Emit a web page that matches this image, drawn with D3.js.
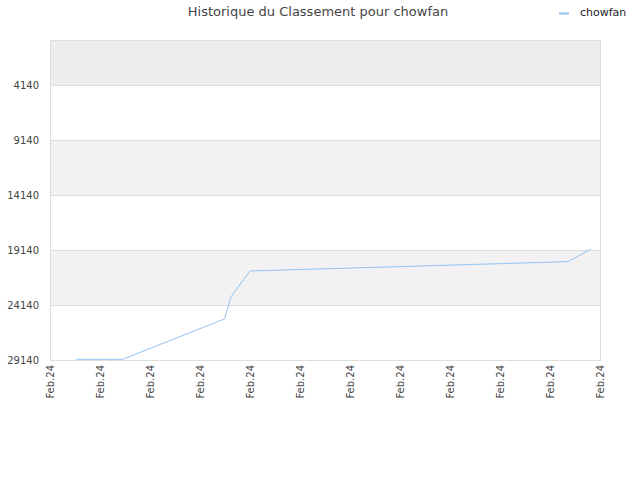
<!DOCTYPE html>
<html lang="en">
<head>
  <meta charset="UTF-8">
  <title></title>
  <style>
    html, body {
      margin: 0;
      overflow: hidden;
      width: 100%;
      height: 100%;
      background: #fff;
    }
    svg {
      position: absolute;
      top: 0;
      left: 0;
      font-family: "DejaVu Sans", sans-serif;
    }
  </style>
</head>
<body>
  <svg width="640" height="480"></svg>
</body>
<script src="https://d3js.org/d3.v7.min.js"></script>
<script type="text/javascript">
  // data: position along the axis (in tick steps) and rank
  const days = [0.53, 1.45, 3.49, 3.62, 4.0, 10.36, 10.82]
  const ranks = [29080, 29080, 25410, 23390, 21050, 20200, 19050]
  const yTicks = [4140, 9140, 14140, 19140, 24140, 29140]
  const xTicks = [0, 1, 2, 3, 4, 5, 6, 7, 8, 9, 10, 11]
  const xLabel = 'Feb.24'
  const seriesName = 'chowfan'
  const title = 'Historique du Classement pour chowfan'

  const svg = d3.select('svg')
  const mLeft = 50, mRight = 600, mTop = 40, mBottom = 360
  const lineColor = '#92c3f2'

  const x = d3.scaleLinear().domain([0, 11]).range([mLeft, mRight])
  const y = d3.scaleLinear().domain([50, 29140]).range([mTop, mBottom])

  // background bands
  const edges = [50].concat(yTicks)
  const bands = d3.pairs(edges)
  svg.append('g')
    .selectAll('rect')
    .data(bands)
    .enter().append('rect')
      .attr('x', mLeft)
      .attr('y', d => y(d[0]))
      .attr('width', mRight - mLeft)
      .attr('height', d => y(d[1]) - y(d[0]))
      .attr('fill', (d, i) => i === 0 ? '#ededed' : (i % 2 === 0 ? '#f2f2f2' : '#ffffff'))

  // grid lines
  svg.append('g')
    .selectAll('line')
    .data(yTicks)
    .enter().append('line')
      .attr('x1', mLeft)
      .attr('x2', mRight)
      .attr('y1', d => Math.round(y(d)) + 0.5)
      .attr('y2', d => Math.round(y(d)) + 0.5)
      .attr('stroke', '#dddddd')

  // frame
  svg.append('rect')
    .attr('x', mLeft + 0.5)
    .attr('y', mTop + 0.5)
    .attr('width', mRight - mLeft)
    .attr('height', mBottom - mTop)
    .attr('fill', 'none')
    .attr('stroke', '#dddddd')

  // y axis
  const yAxis = svg.append('g')
    .attr('transform', `translate(${mLeft},0)`)
    .call(d3.axisLeft(y).tickValues(yTicks).tickSize(0).tickPadding(11).tickFormat(d3.format('d')))
  yAxis.select('.domain').remove()
  yAxis.selectAll('text')
    .attr('fill', '#444')
    .style('font-size', '10px')
    .style('font-family', '"DejaVu Sans", sans-serif')

  // x axis
  const xAxis = svg.append('g')
    .attr('transform', `translate(0,${mBottom})`)
    .call(d3.axisBottom(x).tickValues(xTicks).tickSize(0).tickFormat(() => xLabel))
  xAxis.select('.domain').remove()
  xAxis.selectAll('text')
    .attr('fill', '#444')
    .style('font-size', '10px')
    .style('font-family', '"DejaVu Sans", sans-serif')
    .attr('transform', 'rotate(-90)')
    .attr('text-anchor', 'end')
    .attr('dx', '-5px')
    .attr('dy', '0.32em')
    .attr('x', 0)
    .attr('y', 0)

  // series line
  const pts = days.map((d, i) => [d, ranks[i]])
  svg.append('path')
    .datum(pts)
    .attr('d', d3.line().x(d => x(d[0])).y(d => y(d[1])))
    .attr('fill', 'none')
    .attr('stroke', lineColor)
    .attr('stroke-width', 1)

  // title
  svg.append('text')
    .attr('x', 318)
    .attr('y', 16)
    .attr('text-anchor', 'middle')
    .attr('fill', '#444')
    .style('font-size', '13px')
    .text(title)

  // legend
  svg.append('line')
    .attr('x1', 559).attr('x2', 569)
    .attr('y1', 13.5).attr('y2', 13.5)
    .attr('stroke', lineColor)
    .attr('stroke-width', 2)
  svg.append('text')
    .attr('x', 580)
    .attr('y', 16)
    .attr('fill', '#222')
    .style('font-size', '11px')
    .text(seriesName)
</script>
</html>
